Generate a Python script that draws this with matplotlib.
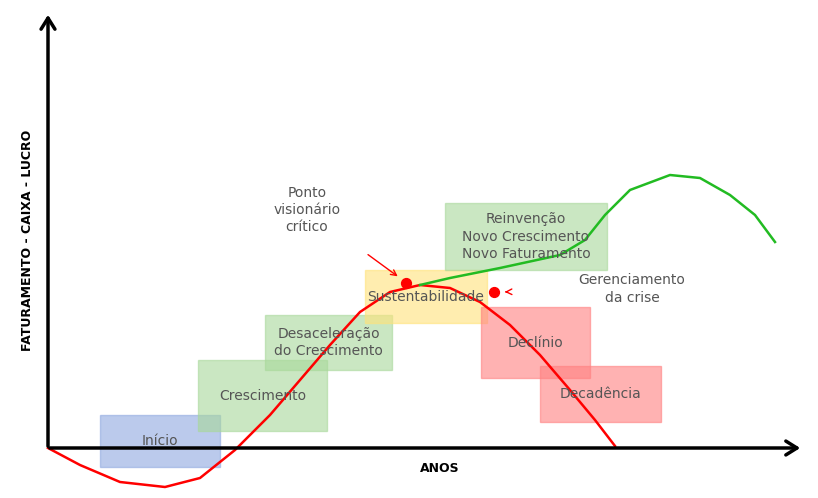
import matplotlib.pyplot as plt

# Curvas (coordenadas, em pixels)
red_x = [48, 80, 120, 165, 200, 235, 270, 300, 330, 360, 390, 420, 450, 480, 510, 540, 570, 595, 615]
red_y = [448, 465, 482, 487, 478, 450, 415, 380, 345, 312, 292, 285, 288, 302, 325, 355, 390, 420, 446]
green_x = [420, 450, 500, 560, 585, 605, 630, 670, 700, 730, 755, 775]
green_y = [285, 278, 268, 255, 240, 215, 190, 175, 178, 195, 215, 242]

# Fases: texto, x0, y0, x1, y1, cor
labels = ["Início", "Crescimento", "Desaceleração\ndo Crescimento", "Sustentabilidade",
          "Reinvenção\nNovo Crescimento\nNovo Faturamento", "Declínio", "Decadência"]
bx0 = [100, 198, 265, 365, 445, 481, 540]
by0 = [415, 360, 315, 270, 203, 307, 366]
bx1 = [220, 327, 392, 487, 607, 590, 661]
by1 = [467, 431, 370, 323, 270, 378, 422]
colors = ["#8fa8e0", "#a8d89a", "#a8d89a", "#ffe27a", "#a8d89a", "#ff8080", "#ff8080"]

dots_x = [406, 494]
dots_y = [283, 292]

fig = plt.figure(figsize=(8.18, 4.98), dpi=100)
ax = fig.add_axes([0, 0, 1, 1])
ax.set_xlim(0, 818)
ax.set_ylim(498, 0)
ax.axis('off')

gray = '#555555'
for lab, x0, y0, x1, y1, c in zip(labels, bx0, by0, bx1, by1, colors):
    ax.add_patch(plt.Rectangle((x0, y0), x1 - x0, y1 - y0, facecolor=c, alpha=0.6,
                               edgecolor=c, zorder=1))
    ax.text((x0 + x1) / 2, (y0 + y1) / 2, lab, ha='center', va='center', color=gray,
            fontsize=10, linespacing=1.3, zorder=3)

ax.plot(red_x, red_y, color='red', lw=1.8, zorder=2)
ax.plot(green_x, green_y, color='#22bb22', lw=1.8, zorder=2)
ax.scatter(dots_x, dots_y, color='red', s=50, zorder=4)

# Eixos
ax.annotate('', xy=(48, 12), xytext=(48, 449),
            arrowprops=dict(arrowstyle='->,head_width=0.5,head_length=0.8', lw=2.5, color='black'))
ax.annotate('', xy=(803, 448), xytext=(47, 448),
            arrowprops=dict(arrowstyle='->,head_width=0.5,head_length=0.8', lw=2.5, color='black'))
ax.text(440, 468, 'ANOS', ha='center', va='center', fontsize=9, fontweight='bold')
ax.text(28, 240, 'FATURAMENTO - CAIXA - LUCRO', rotation=90, ha='center', va='center',
        fontsize=9, fontweight='bold')

ax.annotate('Ponto\nvisionário\ncrítico', xy=(400, 278), xytext=(307, 210),
            ha='center', va='center', color=gray, fontsize=10, linespacing=1.3,
            arrowprops=dict(arrowstyle='->', color='red', lw=1, shrinkA=22))
ax.annotate('Gerenciamento\nda crise', xy=(502, 292), xytext=(632, 289),
            ha='center', va='center', color=gray, fontsize=10, linespacing=1.3,
            arrowprops=dict(arrowstyle='->', color='red', lw=1, shrinkA=50))

fig.savefig('out.png', dpi=100)
